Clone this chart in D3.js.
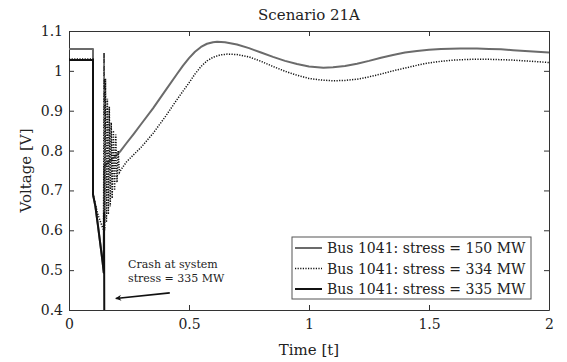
<!DOCTYPE html>
<html><head><meta charset="utf-8">
<script src="https://cdn.jsdelivr.net/npm/d3@7"></script>
<style>body{margin:0;background:#fff}svg{display:block}text{font-family:"DejaVu Serif",serif;fill:#222}</style>
</head><body>
<script>
const xTicks = [0, 0.5, 1, 1.5, 2];
const yTicks = [0.4, 0.5, 0.6, 0.7, 0.8, 0.9, 1, 1.1];
const seriesNames = ["Bus 1041: stress = 150 MW", "Bus 1041: stress = 334 MW", "Bus 1041: stress = 335 MW"];

const t150 = [0,0.1,0.1,0.11,0.12,0.13,0.14,0.145,0.146,0.17,0.19,0.215,0.24,0.27,0.3,0.35,0.4,0.45,0.475,0.5,0.525,0.55,0.575,0.6,0.617,0.65,0.7,0.75,0.8,0.85,0.9,0.95,1.0,1.06,1.1,1.15,1.2,1.25,1.3,1.35,1.4,1.45,1.5,1.55,1.63,1.7,1.75,1.8,1.85,1.9,1.95,2];
const v150 = [1.055,1.055,0.69,0.66,0.615,0.568,0.52,0.493,0.76,0.775,0.784,0.799,0.819,0.842,0.866,0.906,0.949,0.992,1.013,1.032,1.048,1.060,1.068,1.072,1.073,1.072,1.066,1.057,1.046,1.035,1.025,1.017,1.011,1.008,1.009,1.012,1.018,1.025,1.033,1.040,1.046,1.050,1.053,1.055,1.056,1.056,1.055,1.054,1.052,1.050,1.048,1.046];

const t334 = [0,0.1,0.1,0.12,0.144,0.146,0.149,0.152,0.156,0.16,0.164,0.168,0.172,0.176,0.18,0.185,0.19,0.195,0.2,0.205,0.21,0.22,0.24,0.27,0.3,0.35,0.4,0.45,0.5,0.525,0.55,0.575,0.6,0.63,0.66,0.7,0.75,0.8,0.85,0.9,0.95,1.0,1.05,1.1,1.15,1.2,1.25,1.3,1.35,1.4,1.45,1.5,1.55,1.6,1.68,1.75,1.8,1.85,1.9,1.95,2];
const v334 = [1.03,1.03,0.69,0.64,0.60,1.045,0.60,0.98,0.62,0.93,0.64,0.91,0.66,0.87,0.68,0.85,0.70,0.84,0.72,0.80,0.745,0.755,0.772,0.79,0.808,0.843,0.884,0.928,0.970,0.992,1.011,1.025,1.034,1.040,1.042,1.041,1.035,1.024,1.011,0.999,0.989,0.981,0.977,0.975,0.976,0.979,0.985,0.992,1.000,1.007,1.014,1.020,1.024,1.027,1.029,1.029,1.028,1.027,1.025,1.023,1.021];

const t335 = [0,0.1,0.1,0.11,0.12,0.13,0.14,0.145,0.146,0.147];
const v335 = [1.027,1.027,0.69,0.66,0.615,0.568,0.52,0.493,0.645,0.4];

const annoText = ["Crash at system", "stress = 335 MW"];
const annoFrom = [0.42, 0.443];
const annoTo = [0.195, 0.429];

const W = 567, H = 362;
const m = {l: 69, r: 18, t: 31, b: 52};
const svg = d3.select("body").append("svg").attr("width", W).attr("height", H);
const x = d3.scaleLinear().domain([0, 2]).range([m.l, W - m.r]);
const y = d3.scaleLinear().domain([0.4, 1.1]).range([H - m.b, m.t]);

const defs = svg.append("defs");
defs.append("clipPath").attr("id", "clip").append("rect")
  .attr("x", m.l).attr("y", m.t).attr("width", x(2) - m.l).attr("height", y(0.4) - m.t);
defs.append("marker").attr("id", "arr").attr("viewBox", "0 0 10 10").attr("refX", 9).attr("refY", 5)
  .attr("markerWidth", 7).attr("markerHeight", 6).attr("orient", "auto-start-reverse")
  .attr("markerUnits", "userSpaceOnUse")
  .append("path").attr("d", "M0,0 L10,5 L0,10 L3,5 Z").attr("fill", "#111");

const fs = 14;
const gx = svg.append("g").attr("transform", `translate(0,${y(0.4)})`)
  .call(d3.axisBottom(x).tickValues(xTicks).tickFormat(d3.format("")).tickSizeInner(-5).tickSizeOuter(0).tickPadding(9));
const gxt = svg.append("g").attr("transform", `translate(0,${y(1.1)})`)
  .call(d3.axisTop(x).tickValues(xTicks).tickFormat("").tickSizeInner(-5).tickSizeOuter(0));
const gy = svg.append("g").attr("transform", `translate(${x(0)},0)`)
  .call(d3.axisLeft(y).tickValues(yTicks).tickFormat(d3.format("")).tickSizeInner(-5).tickSizeOuter(0).tickPadding(6));
const gyr = svg.append("g").attr("transform", `translate(${x(2)},0)`)
  .call(d3.axisRight(y).tickValues(yTicks).tickFormat("").tickSizeInner(-5).tickSizeOuter(0));
[gx, gxt, gy, gyr].forEach(g => {
  g.select(".domain").attr("stroke", "#333").attr("stroke-width", 1);
  g.selectAll(".tick line").attr("stroke", "#333");
  g.selectAll("text").attr("font-family", "DejaVu Serif").attr("font-size", fs).attr("fill", "#222");
});

const line = d3.line().x(d => x(d[0])).y(d => y(d[1]));
const plot = svg.append("g").attr("clip-path", "url(#clip)");
const d150 = t150.map((t, i) => [t, v150[i]]);
const d334 = t334.map((t, i) => [t, v334[i]]);
const d335 = t335.map((t, i) => [t, v335[i]]);
plot.append("path").attr("d", line(d150)).attr("fill", "none").attr("stroke", "#6b6b6b").attr("stroke-width", 2).attr("stroke-linejoin", "round");
plot.append("path").attr("d", line(d334)).attr("fill", "none").attr("stroke", "#111").attr("stroke-width", 1.5).attr("stroke-dasharray", "1.2,1.4");
plot.append("path").attr("d", line(d335)).attr("fill", "none").attr("stroke", "#111").attr("stroke-width", 2);

svg.append("text").attr("x", (x(0) + x(2)) / 2).attr("y", 20).attr("text-anchor", "middle").attr("font-size", 15).text("Scenario 21A");
svg.append("text").attr("x", (x(0) + x(2)) / 2).attr("y", 355).attr("text-anchor", "middle").attr("font-size", 15).text("Time [t]");
svg.append("text").attr("transform", `translate(31,${(y(0.4) + y(1.1)) / 2}) rotate(-90)`).attr("text-anchor", "middle").attr("font-size", 15).text("Voltage [V]");

svg.append("line").attr("x1", x(annoFrom[0])).attr("y1", y(annoFrom[1])).attr("x2", x(annoTo[0])).attr("y2", y(annoTo[1]))
  .attr("stroke", "#111").attr("stroke-width", 1.6).attr("marker-end", "url(#arr)");
annoText.forEach((s, i) => svg.append("text").attr("x", 128).attr("y", 268 + i * 14).attr("font-size", 11).text(s));

const lg = svg.append("g");
lg.append("rect").attr("x", 292).attr("y", 237).attr("width", 239).attr("height", 62).attr("fill", "#fff").attr("stroke", "#555").attr("stroke-width", 1);
const styles = [
  {stroke: "#6b6b6b", w: 2, dash: null},
  {stroke: "#111", w: 1.5, dash: "1.2,1.4"},
  {stroke: "#111", w: 2, dash: null}
];
seriesNames.forEach((n, i) => {
  const cy = 248 + i * 20.5;
  lg.append("line").attr("x1", 295).attr("x2", 322).attr("y1", cy).attr("y2", cy)
    .attr("stroke", styles[i].stroke).attr("stroke-width", styles[i].w).attr("stroke-dasharray", styles[i].dash);
  lg.append("text").attr("x", 327).attr("y", cy + 5).attr("font-size", 14).text(n);
});
</script>
</body></html>
